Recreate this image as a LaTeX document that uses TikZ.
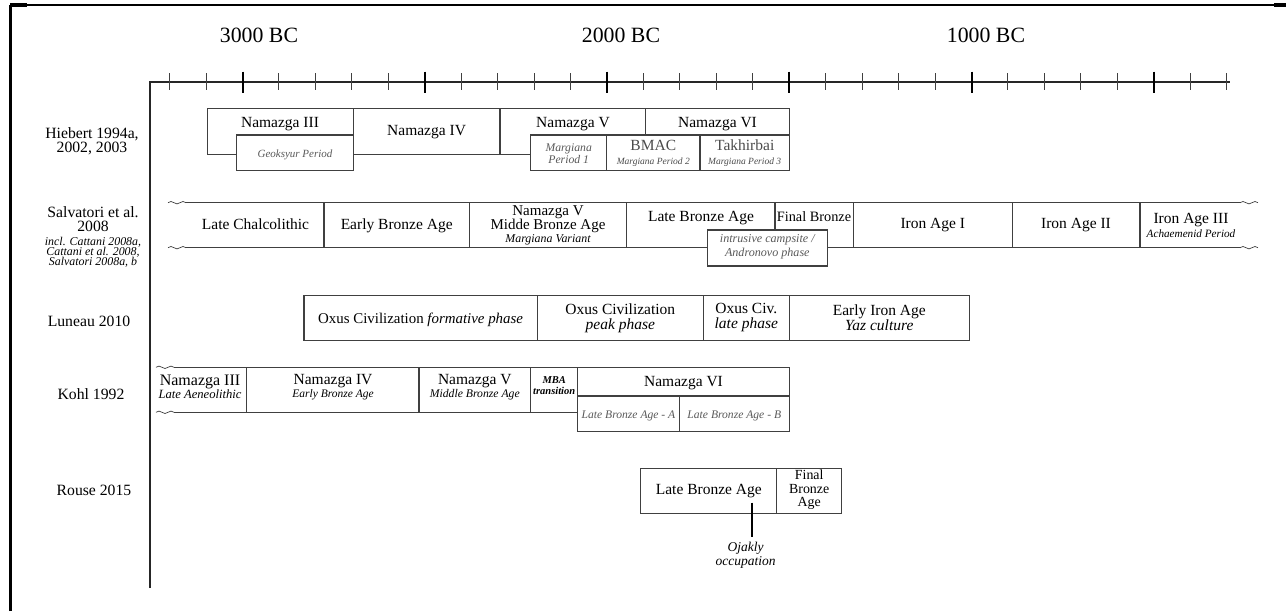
\documentclass[tikz,border=0pt]{standalone}
\usepackage{fontspec}
\setmainfont{Liberation Serif}
\usetikzlibrary{positioning}
\lineskiplimit=-100pt

\tikzset{
  box/.style={draw=black!75,line width=1.1pt},
  cover/.style={box,fill=white},
  per/.style={inner sep=0pt,align=center,font=\fontsize{15.5}{15}\selectfont},
  note/.style={inner sep=0pt,align=center,text=black!65,font=\fontsize{11.6}{14}\selectfont\itshape},
  src/.style={inner sep=0pt,align=center,font=\fontsize{15.7}{14}\selectfont},
  yr/.style={inner sep=0pt,anchor=base,font=\fontsize{21.8}{22}\selectfont},
}
\newcommand{\sm}[1]{{\fontsize{11.9}{10}\selectfont\itshape #1}}
\newcommand{\wavy}[2]{\draw[box,line width=0.7pt] (#1,#2) sin ++(3,-1.2) cos ++(3,1.2) sin ++(3,1.2) cos ++(3,-1.2) sin ++(3,-1.2) cos ++(3,1.2);}

\begin{document}
\begin{tikzpicture}[x=1pt,y=-1pt]
    \useasboundingbox (0,0) rectangle (1286,611);
    % frame
    \draw[line width=3pt] (10,611) -- (10,5);
    \draw[line width=1.6pt] (10,5) -- (1286,5);
    \draw[line width=3.5pt] (10,5) -- (27,5) (1274,5) -- (1286,5);
    % time axis
    \draw[line width=1.6pt,black!85] (150,588) -- (150,82) -- (1230,82);
    \foreach \i in {0,...,29}
      \draw[line width=1pt,black!75] (169.6+36.45*\i,73) -- ++(0,17);
    \foreach \i in {2,7,...,27}
      \draw[line width=2pt] (169.6+36.45*\i,71.5) -- ++(0,21);
    \node[yr] (y3000) at (259,42) {3000 BC};
    \node[yr] (y2000) at (621,42) {2000 BC};
    \node[yr] (y1000) at (986,42) {1000 BC};
    % sources
    \node[src] (hieb) at (92,141) {Hiebert 1994a,\\2002, 2003};
    \node[src] (salv) at (93,237) {Salvatori et al.\\2008\\\sm{incl. Cattani 2008a,}\\[-4pt]\sm{Cattani et al. 2008,}\\[-4pt]\sm{Salvatori 2008a, b}};
    \node[src,anchor=base] (lune) at (89,326.7) {Luneau 2010};
    \node[src,anchor=base] (kohl) at (91,399) {Kohl 1992};
    \node[src,anchor=base] (rous) at (94,495) {Rouse 2015};
    % Hiebert
    \draw[box] (207.3,108.3) rectangle (353.3,154.3);
    \draw[box] (353.3,108.3) rectangle (500,154.3);
    \draw[box] (500,108.3) rectangle (645.7,154.3);
    \draw[box] (645.7,108.3) rectangle (789.3,135);
    \draw[cover] (236.7,135) rectangle (353.3,170.7);
    \draw[cover] (530.7,135) rectangle (606.7,170.7);
    \draw[cover] (606.7,135) rectangle (700,170.7);
    \draw[cover] (700,135) rectangle (789.3,170.7);
    \node[per,anchor=base] (hnIII) at (280,127.5) {Namazga III};
    \node[per,anchor=base] (hnIV) at (426.6,135) {Namazga IV};
    \node[per,anchor=base] (hnV) at (573,127.5) {Namazga V};
    \node[per,anchor=base] (hnVI) at (717.5,127.5) {Namazga VI};
    \node[note,anchor=base,font=\fontsize{11}{12}\selectfont\itshape] (hgeo) at (295,157) {Geoksyur Period};
    \node[note,font=\fontsize{11.7}{12}\selectfont\itshape] (hmp1) at (568.7,153.5) {Margiana\\Period 1};
    \node[per,text=black!70] (hbmac) at (653.3,153.5) {BMAC\\[-1pt]{\fontsize{9.5}{11}\selectfont\itshape Margiana Period 2}};
    \node[per,text=black!70] (htak) at (744.7,153.5) {Takhirbai\\[-1pt]{\fontsize{9.5}{11}\selectfont\itshape Margiana Period 3}};
    % Salvatori
    \wavy{168}{202.7} \wavy{168}{247.7}
    \draw[box] (186,202.7) -- (1240,202.7) (186,247.7) -- (1240,247.7);
    \wavy{1240}{202.7} \wavy{1240}{247.7}
    \foreach \x in {324,469.3,626.7,775,853.3,1012.3,1140}
      \draw[box] (\x,202.7) -- (\x,247.7);
    \draw[cover] (707.3,230) rectangle (827.3,266);
    \node[per,anchor=base] (slc) at (255.5,229) {Late Chalcolithic};
    \node[per,anchor=base] (seba) at (396.7,229) {Early Bronze Age};
    \node[per,font=\fontsize{15}{15}\selectfont] (snv) at (548,225.6) {Namazga V\\[-1pt]Midde Bronze Age\\[-1.5pt]{\fontsize{11.9}{12}\selectfont\itshape Margiana Variant}};
    \node[per,anchor=base] (slba) at (701,221) {Late Bronze Age};
    \node[per,anchor=base,font=\fontsize{14.3}{15}\selectfont] (sfb) at (814,221) {Final Bronze};
    \node[per,anchor=base] (sia1) at (932.8,228) {Iron Age I};
    \node[per,anchor=base] (sia2) at (1076,228) {Iron Age II};
    \node[per] (sia3) at (1191,225) {Iron Age III\\[-1pt]{\fontsize{11.2}{12}\selectfont\itshape Achaemenid Period}};
    \node[note,font=\fontsize{12.1}{14}\selectfont\itshape] (scamp) at (767.3,247) {intrusive campsite /\\Andronovo phase};
    % Luneau
    \draw[box] (304,295.7) rectangle (969.3,340.7);
    \foreach \x in {537.3,703.3,789.3}
      \draw[box] (\x,295.7) -- (\x,340.7);
    \node[per,anchor=base,font=\fontsize{14.9}{15}\selectfont] (lof) at (420.6,323) {Oxus Civilization \textit{formative phase}};
    \node[per] (lop) at (620.3,318) {Oxus Civilization\\\textit{peak phase}};
    \node[per] (lol) at (746.3,318) {Oxus Civ.\\\textit{late phase}};
    \node[per] (leia) at (879.3,318) {Early Iron Age\\\textit{Yaz culture}};
    % Kohl
    \wavy{156}{367.3} \wavy{156}{412.3}
    \draw[box] (174,367.3) -- (789.3,367.3) -- (789.3,431.7) -- (577.7,431.7) -- (577.7,367.3);
    \draw[box] (174,412.3) -- (577.7,412.3);
    \draw[box] (577.7,396) -- (789.3,396) (679.3,396) -- (679.3,431.7);
    \foreach \x in {246.7,419,530.7}
      \draw[box] (\x,367.3) -- (\x,412.3);
    \node[per,font=\fontsize{16}{15}\selectfont] (knIII) at (200,387) {Namazga III\\[-2.5pt]{\fontsize{12.6}{12}\selectfont\itshape Late Aeneolithic}};
    \node[per] (knIV) at (333,387) {Namazga IV\\[-2.5pt]{\fontsize{11.5}{12}\selectfont\itshape Early Bronze Age}};
    \node[per] (knV) at (474.8,387) {Namazga V\\[-2.5pt]{\fontsize{11.7}{12}\selectfont\itshape Middle Bronze Age}};
    \node[per,font=\fontsize{10.5}{11}\selectfont\bfseries\itshape] (kmba) at (554.2,386) {MBA\\transition};
    \node[per,anchor=base] (knVI) at (683.5,386.5) {Namazga VI};
    \node[note,anchor=base] (kla) at (628.5,418) {Late Bronze Age - A};
    \node[note,anchor=base] (klb) at (734.3,418) {Late Bronze Age - B};
    % Rouse
    \draw[box] (640.7,468.3) rectangle (841.7,513.3) (776.7,468.3) -- (776.7,513.3);
    \node[per,anchor=base] (rlba) at (708.8,494) {Late Bronze Age};
    \node[per,font=\fontsize{13.9}{13.5}\selectfont] (rfba) at (809.2,490) {Final\\Bronze\\Age};
    \coordinate (occ) at (752,502.7);
    \node[per,font=\fontsize{13.5}{14}\selectfont\itshape] (oja) at (745.7,555) {Ojakly\\occupation};
    \draw[line width=1.8pt] (occ) -- ([yshift=5pt]oja.north -| occ);
\end{tikzpicture}
\end{document}
